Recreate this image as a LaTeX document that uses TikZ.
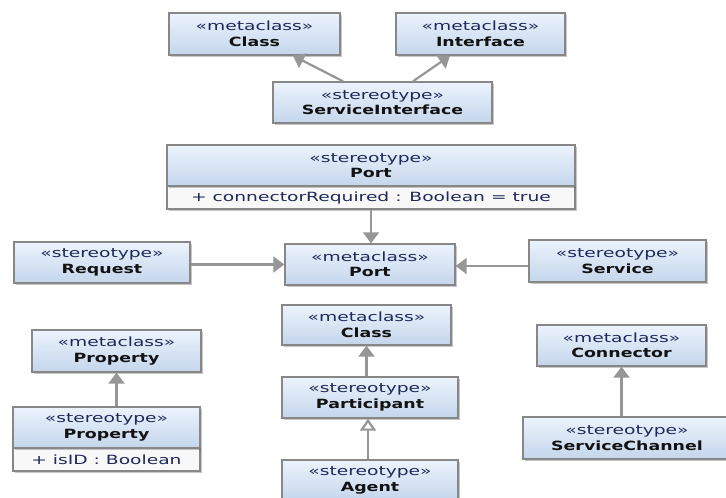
\documentclass[tikz,border=0pt]{standalone}
\usepackage{fontspec}
\usetikzlibrary{arrows.meta,shadows}
\newfontfamily\stfont[FakeStretch=1.47]{DejaVu Sans}
\newfontfamily\nmfont[FakeStretch=1.37]{DejaVu Sans}
\definecolor{boxtop}{RGB}{236,243,252}
\definecolor{boxbot}{RGB}{196,214,236}
\definecolor{boxline}{RGB}{135,135,135}
\definecolor{attrfill}{RGB}{248,248,248}
\definecolor{stcol}{RGB}{30,40,90}
\definecolor{nmcol}{RGB}{18,18,18}
\definecolor{linkcol}{RGB}{150,150,150}
\newcommand{\umlst}[1]{{\stfont\color{stcol}«#1»}}
\newcommand{\umlnm}[1]{{\nmfont\bfseries\color{nmcol}#1}}
\tikzset{
  umlbox/.style={draw=boxline, line width=1.4pt, rectangle, top color=boxtop, bottom color=boxbot,
    align=center, inner sep=0pt, font=\fontsize{12.7}{15.5}\selectfont,
    drop shadow={shadow xshift=1.5pt, shadow yshift=-1.5pt, opacity=0.22, fill=black}},
  attrbox/.style={draw=boxline, line width=1.4pt, rectangle, fill=attrfill, align=center,
    inner sep=0pt, minimum height=23, font=\fontsize{12.7}{15.5}\selectfont\stfont\color{stcol},
    drop shadow={shadow xshift=1.5pt, shadow yshift=-1.5pt, opacity=0.22, fill=black}},
  ext/.style={draw=linkcol, line width=2.2pt, -{Triangle[width=16pt,length=11pt]}},
  gen/.style={draw=linkcol, line width=2.2pt, -{Triangle[open,width=16pt,length=12pt,fill=white]}}
}
\begin{document}
\begin{tikzpicture}[x=1pt,y=-1pt]
\fill[white] (0,0) rectangle (726,498);
\clip (0,0) rectangle (726,498);

% top group: ServiceInterface extends Class and Interface
\node[umlbox, minimum width=171, minimum height=42] (cls) at (254.5,34) {\umlst{metaclass}\\\umlnm{Class}};
\node[umlbox, minimum width=169, minimum height=42] (ifc) at (480.5,34) {\umlst{metaclass}\\\umlnm{Interface}};
\node[umlbox, minimum width=219, minimum height=41] (si) at (382.5,102.5) {\umlst{stereotype}\\\umlnm{ServiceInterface}};

% Port stereotype with its attribute compartment
\node[attrbox, minimum width=408] (stportattr) at (371,197.5) {+ connectorRequired : Boolean = true};
\node[umlbox, minimum width=408, minimum height=41] (stport) at (371,165.5) {\umlst{stereotype}\\\umlnm{Port}};

% Port row
\node[umlbox, minimum width=176, minimum height=41] (req) at (102,262.5) {\umlst{stereotype}\\\umlnm{Request}};
\node[umlbox, minimum width=170, minimum height=41] (mport) at (370,264.5) {\umlst{metaclass}\\\umlnm{Port}};
\node[umlbox, minimum width=177, minimum height=42] (srv) at (617.5,261) {\umlst{stereotype}\\\umlnm{Service}};

% Property
\node[umlbox, minimum width=169, minimum height=42] (propm) at (116.5,351) {\umlst{metaclass}\\\umlnm{Property}};
\node[attrbox, minimum width=187] (propsattr) at (106.5,459.5) {+ isID : Boolean};
\node[umlbox, minimum width=187, minimum height=41] (props) at (106.5,427.5) {\umlst{stereotype}\\\umlnm{Property}};

% Class / Participant / Agent
\node[umlbox, minimum width=169, minimum height=40] (clsm) at (366.5,325) {\umlst{metaclass}\\\umlnm{Class}};
\node[umlbox, minimum width=176, minimum height=41] (part) at (370,397.5) {\umlst{stereotype}\\\umlnm{Participant}};
\node[umlbox, minimum width=176, minimum height=41] (agent) at (370,480.5) {\umlst{stereotype}\\\umlnm{Agent}};

% Connector
\node[umlbox, minimum width=169, minimum height=41] (connm) at (621.5,345.5) {\umlst{metaclass}\\\umlnm{Connector}};
\node[umlbox, minimum width=208, minimum height=42] (sch) at (627,438) {\umlst{stereotype}\\\umlnm{ServiceChannel}};

% extensions
\draw[ext] ([xshift=-39.5pt]si.north) -- ([xshift=38.5pt]cls.south);
\draw[ext] ([xshift=30.5pt]si.north) -- ([xshift=-30.5pt]ifc.south);
\draw[ext] (stportattr.south) -- (stportattr.south |- mport.north);
\draw[ext] (mport.west -| req.east) -- (mport.west);
\draw[ext] ([yshift=-1.5pt]mport.east -| srv.west) -- ([yshift=-1.5pt]mport.east);
\draw[ext] (clsm.south |- part.north) -- (clsm.south);
\draw[gen] ([xshift=-2pt]agent.north) -- ([xshift=-2pt]part.south);
\draw[ext] (propm.south |- props.north) -- (propm.south);
\draw[ext] (connm.south |- sch.north) -- (connm.south);
\end{tikzpicture}
\end{document}
